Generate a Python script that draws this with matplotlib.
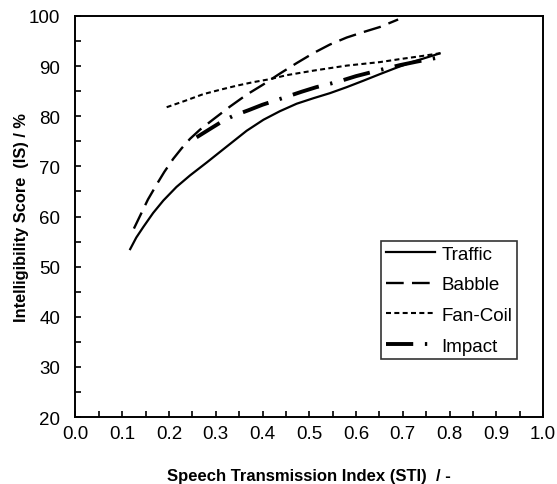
import matplotlib.pyplot as plt
from matplotlib.ticker import MultipleLocator

plt.rcParams['font.family'] = ['Liberation Sans', 'DejaVu Sans']

# values
traffic_sti = [0.117, 0.130, 0.145, 0.166, 0.188, 0.216, 0.245, 0.281, 0.316, 0.366,
               0.402, 0.437, 0.473, 0.509, 0.544, 0.580, 0.616, 0.651, 0.687, 0.723, 0.778]
traffic_is = [53.5, 55.8, 57.9, 60.7, 63.2, 65.9, 68.2, 70.8, 73.4, 77.1,
              79.3, 81.0, 82.5, 83.6, 84.6, 85.8, 87.1, 88.4, 89.7, 90.9, 92.5]

babble_sti = [0.125, 0.140, 0.155, 0.175, 0.190, 0.209, 0.227, 0.245, 0.266, 0.295,
              0.330, 0.366, 0.401, 0.437, 0.473, 0.509, 0.544, 0.580, 0.616, 0.651, 0.690]
babble_is = [57.6, 60.5, 63.4, 66.6, 68.9, 71.5, 73.6, 75.5, 77.3, 79.4,
             81.9, 84.3, 86.3, 88.5, 90.6, 92.6, 94.3, 95.7, 96.8, 97.8, 99.3]

fancoil_sti = [0.195, 0.235, 0.273, 0.310, 0.345, 0.380, 0.416, 0.452, 0.509,
               0.580, 0.651, 0.694, 0.740, 0.782]
fancoil_is = [81.8, 83.1, 84.4, 85.3, 86.1, 86.8, 87.4, 88.2, 89.1,
              90.1, 90.8, 91.4, 92.0, 92.6]

impact_sti = [0.259, 0.290, 0.316, 0.338, 0.370, 0.400, 0.423, 0.452, 0.484, 0.515,
              0.545, 0.569, 0.600, 0.650, 0.694, 0.730, 0.770]
impact_is = [75.8, 77.6, 79.1, 80.1, 81.2, 82.3, 83.0, 83.9, 84.9, 85.8,
             86.5, 87.1, 88.0, 89.2, 90.2, 90.9, 91.6]

fig = plt.figure(figsize=(5.57, 4.85), dpi=100)
ax = fig.add_axes([0.1355, 0.138, 0.8395, 0.827])

ax.plot(traffic_sti, traffic_is, color='black', lw=1.6, label='Traffic')
ax.plot(babble_sti, babble_is, color='black', lw=1.7, dashes=(7.5, 3.5), label='Babble')
ax.plot(fancoil_sti, fancoil_is, color='black', lw=1.5, dashes=(2.4, 1.6), label='Fan-Coil')
ax.plot(impact_sti, impact_is, color='black', lw=2.8, dashes=(7, 3, 0.6, 3),
        label='Impact')

ax.set_xlim(0, 1)
ax.set_ylim(20, 100)
ax.xaxis.set_major_locator(MultipleLocator(0.1))
ax.xaxis.set_minor_locator(MultipleLocator(0.05))
ax.yaxis.set_major_locator(MultipleLocator(10))
ax.yaxis.set_minor_locator(MultipleLocator(5))
ax.set_xticks([i / 10 for i in range(11)])
ax.set_xticklabels([f'{i / 10:.1f}' for i in range(11)])

ax.tick_params(which='both', direction='in', length=4, width=1.2, labelsize=13.5,
               top=False, right=False)
ax.tick_params(axis='x', pad=6)
ax.tick_params(axis='y', pad=11)
for s in ax.spines.values():
    s.set_linewidth(1.4)

ax.set_xlabel('Speech Transmission Index (STI)  / -', fontsize=12, fontweight='bold')
ax.set_ylabel('Intelligibility Score  (IS) / %', fontsize=11.8, fontweight='bold')
ax.xaxis.label.set_va('center')
ax.yaxis.label.set_va('center')
ax.xaxis.set_label_coords(0.5, -0.145)
ax.yaxis.set_label_coords(-0.1144, 0.5)

leg = ax.legend(loc='upper right', bbox_to_anchor=(0.944, 0.439), fontsize=13.5,
                frameon=True, fancybox=False, handlelength=2.6, handletextpad=0.35,
                labelspacing=0.72, borderpad=0.25, borderaxespad=0)
leg.get_frame().set_edgecolor('black')
leg.get_frame().set_linewidth(1.2)

fig.savefig('out.png', dpi=100)
